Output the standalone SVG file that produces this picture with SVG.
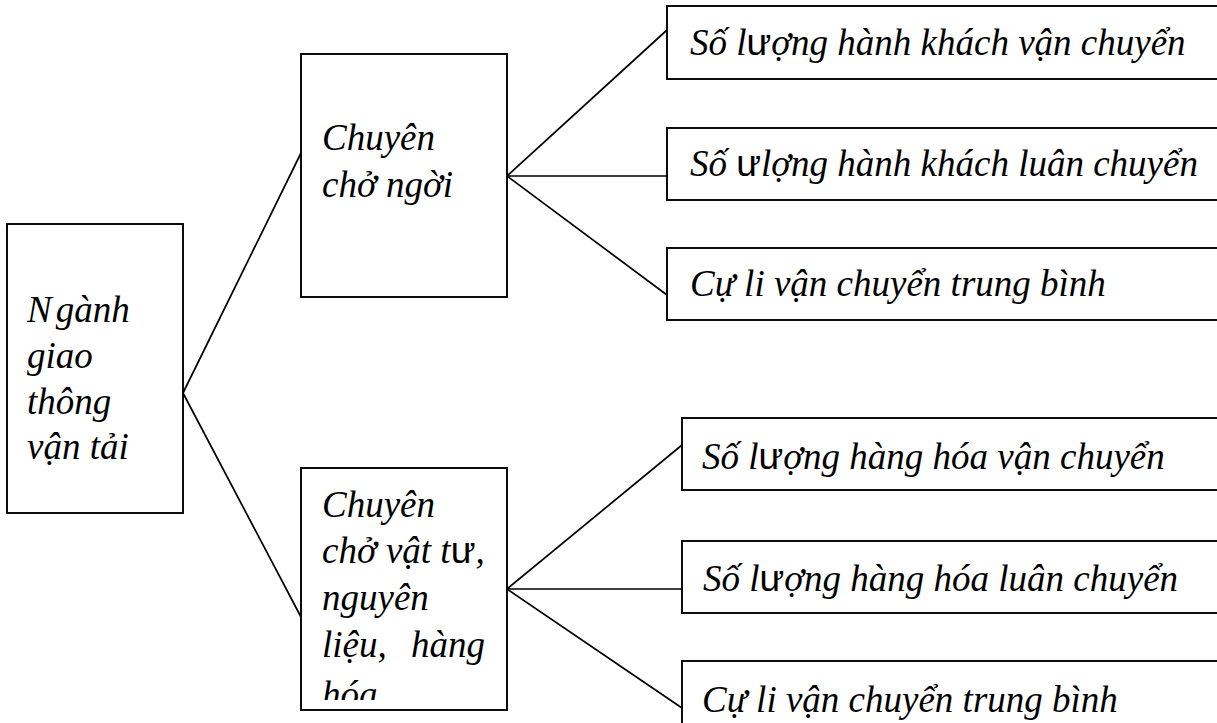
<svg xmlns="http://www.w3.org/2000/svg" width="1217" height="723" viewBox="0 0 1217 723">
<style>
.box{fill:#fff;stroke:#000;stroke-width:1.9}
.con line{stroke:#000;stroke-width:1.7}
text{font-family:"Liberation Serif","DejaVu Serif",serif;font-style:italic;font-size:37px;fill:#000}
.u{font-family:"Liberation Sans",Arial,sans-serif;font-style:normal}
</style>
<defs>
<clipPath id="clip3"><rect x="302" y="469" width="204" height="231"/></clipPath>
</defs>
<rect width="1217" height="723" fill="#fff"/>
<g class="con" id="connectors">
<line x1="183" y1="393" x2="301" y2="153"/>
<line x1="183" y1="393" x2="301" y2="617"/>
<line x1="507" y1="176" x2="667" y2="30"/>
<line x1="507" y1="176" x2="667" y2="176"/>
<line x1="507" y1="176" x2="667" y2="295"/>
<line x1="507" y1="589" x2="682" y2="445"/>
<line x1="507" y1="589" x2="682" y2="589"/>
<line x1="507" y1="589" x2="682" y2="708"/>
</g>
<g id="nganh">
<rect class="box" x="7" y="224" width="176" height="289"/>
<text x="27" y="322">N<tspan dx="4">gành</tspan></text>
<text x="27" y="368">giao</text>
<text x="27" y="414">thông</text>
<text x="27" y="459">vận tải</text>
</g>
<g id="cho-nguoi">
<rect class="box" x="301" y="54" width="206" height="243"/>
<text x="322" y="150">Chuyên</text>
<text x="322" y="197">chở ngời</text>
</g>
<g id="cho-hang">
<rect class="box" x="301" y="468" width="206" height="242"/>
<g clip-path="url(#clip3)">
<text x="322" y="517">Chuyên</text>
<text x="322" y="563">chở vật t<tspan class="u">ư</tspan>,</text>
<text x="322" y="610">nguyên</text>
<text x="322" y="657">liệu,<tspan x="411">hàng</tspan></text>
<text x="322" y="707">hóa</text>
</g>
</g>
<g id="hk-vc">
<rect class="box" x="667" y="6" width="570" height="73"/>
<text x="690" y="55">Số l<tspan class="u">ư</tspan>ợng hành khách vận chuyển</text>
</g>
<g id="hk-lc">
<rect class="box" x="667" y="128" width="570" height="72"/>
<text x="690" y="176">Số <tspan class="u">ư</tspan>lợng hành khách luân chuyển</text>
</g>
<g id="hk-cl">
<rect class="box" x="667" y="248" width="570" height="72"/>
<text x="690" y="296">Cự li vận chuyển trung bình</text>
</g>
<g id="hh-vc">
<rect class="box" x="682" y="418" width="570" height="72"/>
<text x="702" y="469">Số l<tspan class="u">ư</tspan>ợng hàng hóa vận chuyển</text>
</g>
<g id="hh-lc">
<rect class="box" x="682" y="541" width="570" height="72"/>
<text x="703" y="591">Số l<tspan class="u">ư</tspan>ợng hàng hóa luân chuyển</text>
</g>
<g id="hh-cl">
<rect class="box" x="682" y="661" width="570" height="90"/>
<text x="702" y="712">Cự li vận chuyển trung bình</text>
</g>
</svg>
